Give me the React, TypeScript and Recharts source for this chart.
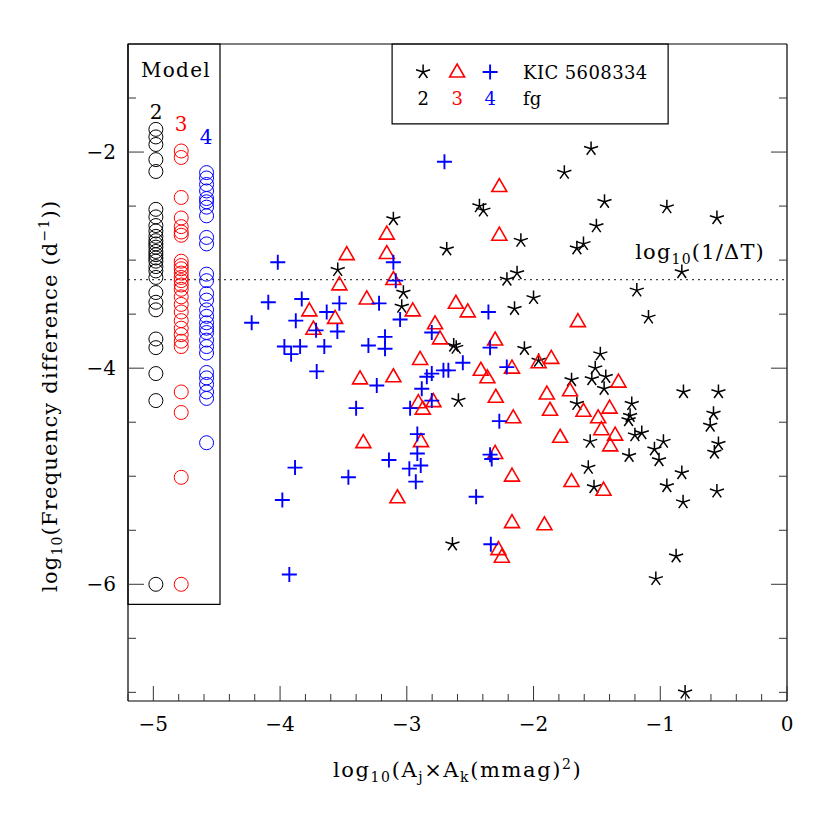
import React from 'react';
import { ScatterChart, Scatter, XAxis, YAxis, ReferenceLine, ReferenceArea } from 'recharts';

// ---------- axis ticks ----------
const X_TICKS = [-5.2, -5, -4.8, -4.6, -4.4, -4.2, -4, -3.8, -3.6, -3.4, -3.2, -3, -2.8, -2.6, -2.4, -2.2, -2, -1.8, -1.6, -1.4, -1.2, -1, -0.8, -0.6, -0.4, -0.2, 0];
const X_LABELS = [-5, -4, -3, -2, -1, 0];
const Y_TICKS = [-7, -6.5, -6, -5.5, -5, -4.5, -4, -3.5, -3, -2.5, -2, -1.5];
const Y_LABELS = [-6, -4, -2];
const X_DOMAIN = [-5.2, 0];
const Y_DOMAIN = [-7.08, -1.0];

// ---------- model columns (circles) ----------
const MODEL_COLS = [-4.98, -4.78, -4.58];
const model2 = [-1.79, -1.86, -1.93, -2.07, -2.18, -2.53, -2.60, -2.68, -2.73, -2.78, -2.82, -2.85, -2.88, -2.92, -2.95, -2.98, -3.01, -3.06, -3.10, -3.16, -3.30, -3.39, -3.46, -3.73, -3.81, -4.05, -4.30, -6.0];
const model3 = [-1.99, -2.05, -2.42, -2.61, -2.69, -2.74, -2.77, -3.01, -3.05, -3.08, -3.12, -3.16, -3.19, -3.23, -3.27, -3.34, -3.41, -3.48, -3.56, -3.63, -3.69, -3.75, -3.80, -4.22, -4.41, -5.01, -6.0];
const model4 = [-2.19, -2.24, -2.30, -2.36, -2.43, -2.46, -2.51, -2.59, -2.79, -2.85, -3.13, -3.19, -3.31, -3.37, -3.46, -3.52, -3.58, -3.63, -3.67, -3.74, -3.80, -3.86, -4.04, -4.09, -4.15, -4.22, -4.28, -4.69];

// ---------- KIC 5608334 combinations ----------
const kic2 = [
  [-3.106, -2.62], [-3.545, -3.09], [-3.027, -3.30], [-3.04, -3.43], [-2.427, -2.50], [-2.396, -2.54], [-2.685, -2.90],
  [-2.63, -3.79], [-2.61, -3.81], [-2.593, -4.30], [-2.21, -3.18], [-2.13, -3.12], [-2.15, -3.45], [-2.10, -2.82],
  [-1.546, -1.97], [-1.757, -2.19], [-1.44, -2.46], [-0.948, -2.51], [-0.553, -2.61], [-1.504, -2.685], [-1.606, -2.85],
  [-1.658, -2.89], [-0.83, -3.11], [-1.185, -3.28], [-2.0, -3.35], [-1.093, -3.53], [-2.072, -3.82], [-1.96, -3.93],
  [-1.473, -3.87], [-1.513, -4.0], [-1.54, -4.10], [-1.43, -4.08], [-1.443, -4.19], [-1.70, -4.11], [-1.658, -4.33],
  [-1.225, -4.33], [-0.817, -4.22], [-0.541, -4.22], [-1.238, -4.44], [-1.25, -4.48], [-0.58, -4.42], [-0.606, -4.53],
  [-1.553, -4.68], [-1.2, -4.62], [-1.146, -4.60], [-0.975, -4.68], [-1.046, -4.75], [-1.01, -4.85], [-1.246, -4.81],
  [-0.541, -4.70], [-0.573, -4.78], [-1.568, -4.92], [-1.523, -5.10], [-0.948, -5.09], [-0.83, -4.97], [-0.82, -5.24],
  [-0.553, -5.14], [-0.875, -5.74], [-1.035, -5.95], [-0.804, -7.0], [-2.64, -5.63],
];
const kic3 = [
  [-2.27, -2.31], [-2.27, -2.76], [-3.158, -2.75], [-3.158, -2.93], [-3.474, -2.94], [-3.106, -3.17], [-3.532, -3.22],
  [-3.316, -3.35], [-2.953, -3.46], [-3.769, -3.46], [-3.566, -3.53], [-3.737, -3.63], [-2.613, -3.39], [-2.519, -3.47],
  [-2.777, -3.58], [-2.738, -3.72], [-2.303, -3.73], [-2.895, -3.91], [-3.369, -4.09], [-3.106, -4.07], [-2.416, -4.01],
  [-2.364, -4.08], [-2.17, -3.99], [-2.298, -4.26], [-2.909, -4.31], [-2.79, -4.30], [-2.874, -4.37],
  [-1.65, -3.56], [-1.86, -3.90], [-1.96, -3.94], [-1.33, -4.12], [-1.895, -4.23], [-1.712, -4.20], [-1.87, -4.38],
  [-1.606, -4.39], [-1.40, -4.36], [-2.16, -4.45], [-1.49, -4.45], [-1.465, -4.56], [-1.356, -4.61], [-1.395, -4.71],
  [-1.79, -4.63], [-1.70, -5.04], [-1.448, -5.12], [-1.914, -5.44], [-2.17, -4.99], [-2.17, -5.42],
  [-3.343, -4.68], [-2.888, -4.67], [-2.303, -4.78], [-3.074, -5.19], [-2.277, -5.67], [-2.25, -5.74],
];
const kic4 = [
  [-2.703, -2.09], [-4.018, -3.02], [-3.106, -3.02], [-3.087, -3.19], [-4.093, -3.39], [-3.829, -3.36], [-3.532, -3.40],
  [-3.219, -3.40], [-3.053, -3.55], [-4.224, -3.58], [-3.876, -3.56], [-3.632, -3.48], [-3.716, -3.65], [-3.548, -3.66],
  [-3.966, -3.80], [-3.842, -3.80], [-3.913, -3.87], [-3.651, -3.80], [-3.303, -3.79], [-3.172, -3.71], [-3.172, -3.82],
  [-2.803, -3.67], [-2.356, -3.48], [-2.343, -3.81], [-3.711, -4.03], [-2.558, -3.95], [-2.672, -4.02], [-2.711, -4.02],
  [-2.803, -4.05], [-2.842, -4.08], [-3.237, -4.16], [-2.882, -4.19], [-2.803, -4.30], [-3.40, -4.37], [-2.974, -4.37],
  [-2.211, -3.99], [-2.27, -4.49], [-2.917, -4.61], [-2.917, -4.79], [-3.141, -4.85], [-2.98, -4.93], [-2.89, -4.90],
  [-2.929, -5.05], [-3.461, -5.01], [-3.882, -4.92], [-3.982, -5.22], [-3.927, -5.91], [-2.343, -4.80], [-2.33, -4.84],
  [-2.453, -5.19], [-2.337, -5.63],
];

// ---------- annotations ----------
const DT_LEVEL = -3.18;
const MODEL_BOX = { x1: -5.2, x2: -4.474, y1: -6.185, y2: -1.0 };
const LEGEND_BOX = { x1: -3.116, x2: -0.938, y1: -1.74, y2: -1.0 };

const FONT = "'DejaVu Serif', serif";
const RED = '#ff0000';
const BLUE = '#0000ff';

const toPts = (arr: number[][]) => arr.map(([x, y]) => ({ x, y }));
const colPts = (col: number, ys: number[]) => ys.map((y) => ({ x: col, y }));

const fmt = (v: number) => (v < 0 ? '\u2212' + Math.abs(v) : String(v));
const isIn = (arr: number[], v: number) => arr.some((a) => Math.abs(a - v) < 1e-6);

// ---------- marker shapes ----------
const starPath = (cx: number, cy: number, r: number) =>
  [-90, -18, 54, 126, 198]
    .map((a) => {
      const t = (a * Math.PI) / 180;
      return `M${cx},${cy}L${cx + r * Math.cos(t)},${cy + r * Math.sin(t)}`;
    })
    .join('');

const StarShape = (p: any) => <path d={starPath(p.cx, p.cy, 7.4)} stroke="#000" strokeWidth={1.5} fill="none" />;
const triPath = (cx: number, cy: number) => `M${cx},${cy - 7}L${cx + 7.5},${cy + 6}L${cx - 7.5},${cy + 6}Z`;
const TriShape = (p: any) => <path d={triPath(p.cx, p.cy)} stroke={RED} strokeWidth={1.6} fill="none" />;
const plusPath = (cx: number, cy: number) => `M${cx - 7.5},${cy}L${cx + 7.5},${cy}M${cx},${cy - 7.5}L${cx},${cy + 7.5}`;
const PlusShape = (p: any) => <path d={plusPath(p.cx, p.cy)} stroke={BLUE} strokeWidth={1.9} fill="none" />;
const circleShape = (color: string) => (p: any) => <circle cx={p.cx} cy={p.cy} r={7} stroke={color} strokeWidth={1} fill="none" />;

// ---------- tick renderers ----------
const TICK_COLOR = '#333';
const BottomTick = (p: any) => {
  const v = p.payload.value;
  const major = isIn(X_LABELS, v);
  return (
    <g>
      <line x1={p.x} x2={p.x} y1={p.y} y2={p.y - (major ? 15 : 7)} stroke={TICK_COLOR} strokeWidth={1} />
      {major && (
        <text x={p.x} y={p.y + 30} textAnchor="middle" fontFamily={FONT} fontSize={20} fill="#000">
          {fmt(v)}
        </text>
      )}
    </g>
  );
};
const TopTick = (p: any) => {
  const v = p.payload.value;
  const major = isIn(X_LABELS, v);
  return <line x1={p.x} x2={p.x} y1={p.y} y2={p.y + (major ? 16 : 8)} stroke={TICK_COLOR} strokeWidth={1} />;
};
const LeftTick = (p: any) => {
  const v = p.payload.value;
  const major = isIn(Y_LABELS, v);
  return (
    <g>
      <line x1={p.x} x2={p.x + (major ? 16 : 8)} y1={p.y} y2={p.y} stroke={TICK_COLOR} strokeWidth={1} />
      {major && (
        <text x={p.x - 12} y={p.y + 7} textAnchor="end" fontFamily={FONT} fontSize={20} fill="#000">
          {fmt(v)}
        </text>
      )}
    </g>
  );
};
const RightTick = (p: any) => {
  const v = p.payload.value;
  const major = isIn(Y_LABELS, v);
  return <line x1={p.x} x2={p.x - (major ? 16 : 8)} y1={p.y} y2={p.y} stroke={TICK_COLOR} strokeWidth={1} />;
};

// ---------- labels ----------
const XTitle = (props: any) => {
  const vb = props.viewBox;
  return (
    <text x={vb.x + 205} y={vb.y + 76} textAnchor="start" fontFamily={FONT} fontSize={21} fill="#000" letterSpacing={1.6}>
      log<tspan fontSize={14} dy={5}>10</tspan>
      <tspan dy={-5}>(A</tspan>
      <tspan fontSize={14} dy={5}>j</tspan>
      <tspan dy={-5}>×A</tspan>
      <tspan fontSize={14} dy={5}>k</tspan>
      <tspan dy={-5}>(mmag)</tspan>
      <tspan fontSize={14} dy={-8}>2</tspan>
      <tspan dy={8}>)</tspan>
    </text>
  );
};
const YTitle = (props: any) => {
  const vb = props.viewBox;
  const x = vb.x + 29;
  const y = vb.y + 548;
  return (
    <text x={x} y={y} transform={`rotate(-90, ${x}, ${y})`} textAnchor="start" fontFamily={FONT} fontSize={21} fill="#000" letterSpacing={1.2}>
      log<tspan fontSize={14} dy={5}>10</tspan>
      <tspan dy={-5}>(Frequency difference (d</tspan>
      <tspan fontSize={14} dy={-8}>−1</tspan>
      <tspan dy={8}>))</tspan>
    </text>
  );
};
const DTLabel = (props: any) => {
  const vb = props.viewBox;
  const x = vb.x + vb.width - 22;
  const y = vb.y - 21;
  return (
    <text x={x} y={y} textAnchor="end" fontFamily={FONT} fontSize={21} fill="#000" letterSpacing={1.2}>
      log<tspan fontSize={14} dy={5}>10</tspan>
      <tspan dy={-5}>(1/ΔT)</tspan>
    </text>
  );
};
const ModelBoxContent = (props: any) => {
  const vb = props.viewBox;
  return (
    <g fontFamily={FONT} fontSize={20}>
      <text x={vb.x + 48} y={vb.y + 33} textAnchor="middle" fill="#000" letterSpacing={1.3}>Model</text>
      <text x={vb.x + 28} y={vb.y + 75} textAnchor="middle" fill="#000">2</text>
      <text x={vb.x + 53} y={vb.y + 87} textAnchor="middle" fill={RED}>3</text>
      <text x={vb.x + 78} y={vb.y + 100} textAnchor="middle" fill={BLUE}>4</text>
    </g>
  );
};
const LegendContent = (props: any) => {
  const vb = props.viewBox;
  const x = vb.x;
  const y = vb.y;
  return (
    <g fontFamily={FONT} fontSize={18}>
      <path d={starPath(x + 31, y + 28, 7.4)} stroke="#000" strokeWidth={1.5} fill="none" />
      <path d={triPath(x + 65, y + 27)} stroke={RED} strokeWidth={1.6} fill="none" />
      <path d={plusPath(x + 98, y + 28)} stroke={BLUE} strokeWidth={1.9} fill="none" />
      <text x={x + 131} y={y + 35} fill="#000" letterSpacing={0.4}>KIC 5608334</text>
      <text x={x + 31} y={y + 61} textAnchor="middle" fill="#000">2</text>
      <text x={x + 65} y={y + 61} textAnchor="middle" fill={RED}>3</text>
      <text x={x + 98} y={y + 61} textAnchor="middle" fill={BLUE}>4</text>
      <text x={x + 131} y={y + 61} fill="#000">fg</text>
    </g>
  );
};

const AXIS_LINE = { stroke: '#000', strokeWidth: 1.2 };

export default function App() {
  return (
    <div style={{ width: 822, height: 822, background: '#fff' }}>
      <ScatterChart width={822} height={822} margin={{ top: 35, right: 42, bottom: 69, left: 20 }}>
        <XAxis
          dataKey="x" type="number" domain={X_DOMAIN} allowDataOverflow ticks={X_TICKS} interval={0}
          tick={BottomTick} tickLine={false} tickSize={0} tickMargin={0} axisLine={AXIS_LINE} height={60}
          label={XTitle}
        />
        <XAxis
          xAxisId="top" orientation="top" type="number" domain={X_DOMAIN} allowDataOverflow ticks={X_TICKS} interval={0}
          tick={TopTick} tickLine={false} tickSize={0} tickMargin={0} axisLine={AXIS_LINE} height={1}
        />
        <YAxis
          dataKey="y" type="number" domain={Y_DOMAIN} allowDataOverflow ticks={Y_TICKS} interval={0}
          tick={LeftTick} tickLine={false} tickSize={0} tickMargin={0} axisLine={AXIS_LINE} width={100}
          label={YTitle}
        />
        <YAxis
          yAxisId="right" orientation="right" type="number" domain={Y_DOMAIN} allowDataOverflow ticks={Y_TICKS} interval={0}
          tick={RightTick} tickLine={false} tickSize={0} tickMargin={0} axisLine={AXIS_LINE} width={1}
        />
        <ReferenceLine y={DT_LEVEL} stroke="#444" strokeWidth={1.2} strokeDasharray="2 4" label={DTLabel} />
        <ReferenceArea {...MODEL_BOX} stroke="#000" strokeWidth={1.2} fill="none" fillOpacity={0} label={ModelBoxContent} />
        <ReferenceArea {...LEGEND_BOX} stroke="#000" strokeWidth={1.2} fill="none" fillOpacity={0} label={LegendContent} />
        <Scatter data={colPts(MODEL_COLS[0], model2)} shape={circleShape('#000')} isAnimationActive={false} />
        <Scatter data={colPts(MODEL_COLS[1], model3)} shape={circleShape(RED)} isAnimationActive={false} />
        <Scatter data={colPts(MODEL_COLS[2], model4)} shape={circleShape(BLUE)} isAnimationActive={false} />
        <Scatter data={toPts(kic2)} shape={StarShape} isAnimationActive={false} />
        <Scatter data={toPts(kic3)} shape={TriShape} isAnimationActive={false} />
        <Scatter data={toPts(kic4)} shape={PlusShape} isAnimationActive={false} />
      </ScatterChart>
    </div>
  );
}
